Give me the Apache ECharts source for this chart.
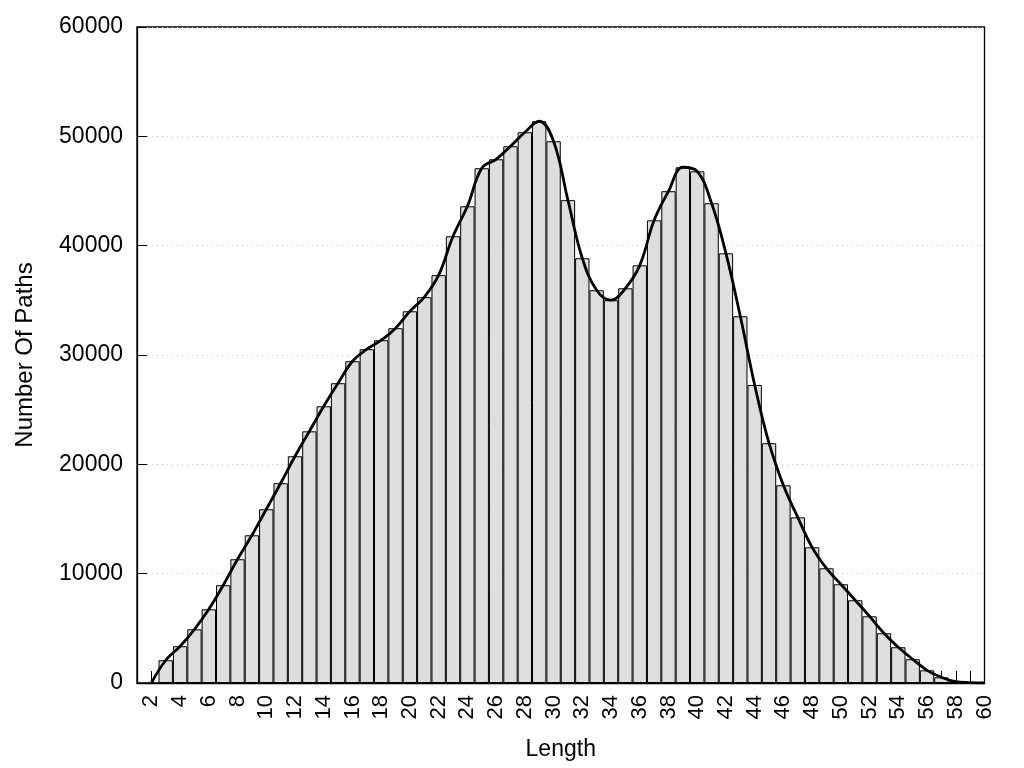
<!DOCTYPE html>
<html>
<head>
<meta charset="utf-8">
<script src="https://cdn.jsdelivr.net/npm/echarts@6/dist/echarts.min.js"></script>
<style>
  html, body { margin: 0; padding: 0; background: #fff; }
  #chart { width: 1024px; height: 768px; }
</style>
</head>
<body>
<div id="chart"></div>
<script>
// Path length bins (x) and number of paths (bars)
const lengths = [3,4,5,6,7,8,9,10,11,12,13,14,15,16,17,18,19,20,21,22,23,24,25,26,27,28,29,30,31,32,33,34,35,36,37,38,39,40,41,42,43,44,45,46,47,48,49,50,51,52,53,54,55,56,57,58,59];
const counts  = [2080,3360,4910,6740,8940,11320,13510,15890,18270,20740,23020,25310,27420,29430,30530,31350,32450,34000,35290,37300,40860,43600,47080,47900,49090,50370,51380,49550,44160,38850,35920,35010,36100,38200,42320,44980,47170,46800,43880,39300,33540,27260,21930,18080,15150,12410,10490,9030,7570,6100,4550,3270,2170,1160,520,120,40];
// Smoothed curve end points
const curveStart = [2, 0];
const curveEnd = [60, 0];
// Axis ranges / ticks
const xMin = 1, xMax = 60, xInterval = 1;
const yMin = 0, yMax = 60000, yInterval = 10000;

const FONT = 'Liberation Sans, Arial, sans-serif';
const chart = echarts.init(document.getElementById('chart'), null, { renderer: 'canvas' });

const gridLeft = 137, gridRight = 39.5, gridTop = 27, gridBottom = 85;
const barW = (1024 - gridLeft - gridRight) / (xMax - xMin);

const barData = lengths.map((x, i) => [x, counts[i]]);
const lineData = [curveStart].concat(barData, [curveEnd]);

chart.setOption({
  animation: false,
  backgroundColor: '#fff',
  grid: {
    left: gridLeft, right: gridRight, top: gridTop, bottom: gridBottom,
    show: true, borderColor: '#000', borderWidth: 1.3, backgroundColor: 'transparent'
  },
  xAxis: {
    type: 'value', min: xMin, max: xMax, interval: xInterval,
    name: 'Length', nameLocation: 'middle', nameGap: 55,
    nameTextStyle: { fontFamily: FONT, fontSize: 23, color: '#000' },
    axisLine: { show: true, lineStyle: { color: '#000', width: 1.3 } },
    axisTick: { show: true, inside: true, length: 12, lineStyle: { color: '#000', width: 1 } },
    axisLabel: {
      interval: 0, rotate: 90, margin: 12,
      fontFamily: FONT, fontSize: 22, color: '#000',
      formatter: v => (v % 2 === 0 ? String(v) : '')
    },
    splitLine: { show: false }
  },
  yAxis: {
    type: 'value', min: yMin, max: yMax, interval: yInterval,
    name: 'Number Of Paths', nameLocation: 'middle', nameGap: 100,
    nameTextStyle: { fontFamily: FONT, fontSize: 24, color: '#000' },
    axisLine: { show: true, lineStyle: { color: '#000', width: 1.3 } },
    axisTick: { show: true, inside: true, length: 10, lineStyle: { color: '#000', width: 1 } },
    axisLabel: { margin: 14, fontFamily: FONT, fontSize: 23, color: '#000', formatter: v => String(v) },
    splitLine: { show: true, lineStyle: { color: '#c8c8c8', width: 1, type: [1, 4] } }
  },
  series: [
    {
      type: 'bar',
      data: barData,
      barWidth: barW,
      itemStyle: { color: '#dedede', borderColor: '#000', borderWidth: 1 },
      z: 2
    },
    {
      type: 'line',
      data: lineData,
      smooth: 0.4,
      showSymbol: false,
      symbol: 'none',
      lineStyle: { color: '#000', width: 2.8 },
      z: 5
    }
  ]
});
</script>
</body>
</html>
